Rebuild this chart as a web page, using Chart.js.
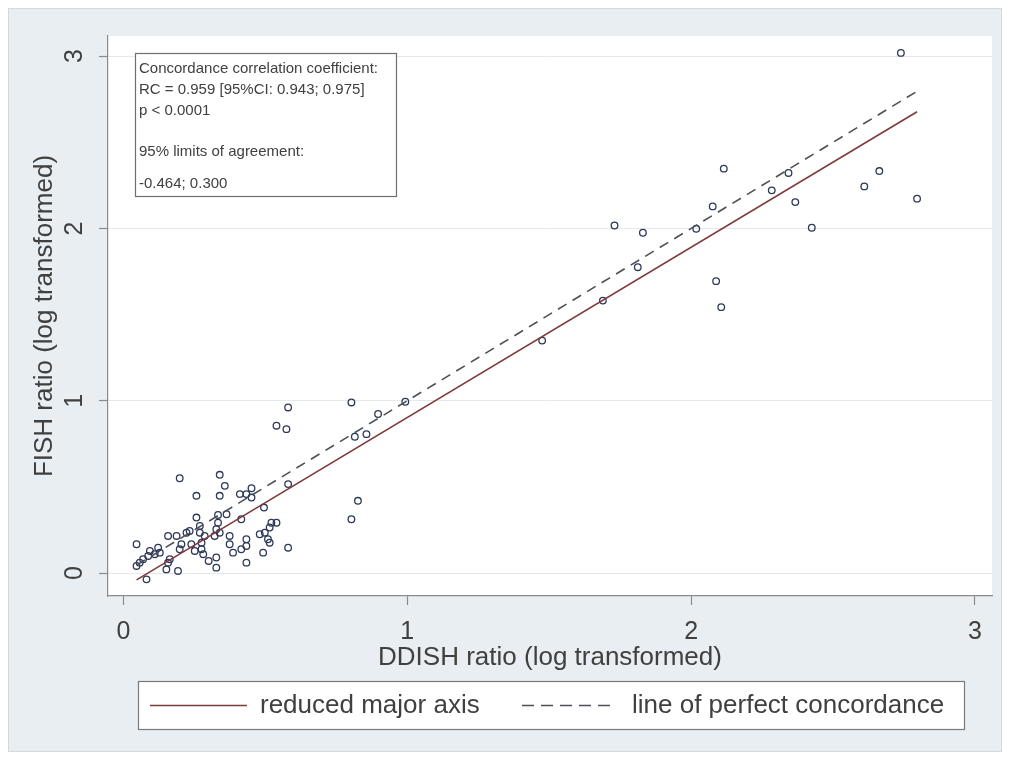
<!DOCTYPE html>
<html>
<head>
<meta charset="utf-8">
<script src="https://cdn.jsdelivr.net/npm/chart.js@4.4.1/dist/chart.umd.min.js"></script>
<style>
  html, body { margin: 0; padding: 0; background: #fff; }
  canvas { display: block; }
</style>
</head>
<body>
<canvas id="concordChart" width="1010" height="760"></canvas>
<script>
// DDISH vs FISH ratios (log transformed)
const ddish = [0.046, 0.046, 0.057, 0.069, 0.087, 0.093, 0.081, 0.110, 0.122, 0.128,
  0.151, 0.157, 0.163, 0.157, 0.187, 0.192, 0.198, 0.204, 0.222, 0.233,
  0.239, 0.251, 0.198, 0.257, 0.257, 0.269, 0.269, 0.286, 0.275, 0.275,
  0.281, 0.300, 0.327, 0.327, 0.333, 0.333, 0.327, 0.339, 0.321, 0.339,
  0.357, 0.339, 0.363, 0.374, 0.374, 0.415, 0.433, 0.433, 0.415, 0.386,
  0.433, 0.410, 0.433, 0.451, 0.451, 0.495, 0.480, 0.498, 0.515, 0.521,
  0.539, 0.509, 0.515, 0.492, 0.580, 0.580, 0.580, 0.539, 0.574, 0.803,
  0.897, 0.856, 0.815, 0.826, 0.803, 0.993, 1.475, 1.689, 1.730, 1.812,
  1.830, 2.018, 2.076, 2.088, 2.106, 2.115, 2.284, 2.343, 2.367, 2.425,
  2.610, 2.663, 2.739, 2.796];
const fish = [0.167, 0.041, 0.060, 0.080, 0.099, 0.128, -0.037, 0.109, 0.147, 0.118,
  0.021, 0.060, 0.080, 0.215, 0.215, 0.012, 0.138, 0.167, 0.234, 0.244,
  0.167, 0.128, 0.550, 0.448, 0.322, 0.273, 0.234, 0.215, 0.176, 0.138,
  0.109, 0.070, 0.090, 0.031, 0.337, 0.292, 0.254, 0.234, 0.215, 0.570,
  0.506, 0.448, 0.341, 0.215, 0.167, 0.312, 0.196, 0.157, 0.138, 0.118,
  0.060, 0.458, 0.458, 0.492, 0.438, 0.380, 0.225, 0.234, 0.264, 0.292,
  0.292, 0.196, 0.176, 0.118, 0.147, 0.516, 0.961, 0.855, 0.835, 0.990,
  0.923, 0.806, 0.791, 0.419, 0.312, 0.994, 1.349, 1.581, 2.017, 1.775,
  1.975, 1.998, 2.128, 1.694, 1.543, 2.347, 2.221, 2.322, 2.153, 2.004,
  2.244, 2.333, 3.019, 2.173];

// reduced major axis end points and the y = x line
const rmaX = [0.046, 2.796];
const rmaY = [-0.040, 2.677];
const perfectX = [0.046, 2.796];
const perfectY = [0.046, 2.796];

const xTicks = [0, 1, 2, 3];
const yTicks = [0, 1, 2, 3];

const legendLabels = ['reduced major axis', 'line of perfect concordance'];
const noteLines = [
  'Concordance correlation coefficient:',
  'RC = 0.959 [95%CI: 0.943; 0.975]',
  'p < 0.0001',
  '',
  '95% limits of agreement:',
  '-0.464; 0.300'
];

const RMA_COLOR = '#7d3b3b';
const PERFECT_COLOR = '#4b5059';
const TEXT_COLOR = '#404040';
const FONT = '"Liberation Sans", Arial, sans-serif';

const points = ddish.map((x, i) => ({ x: x, y: fish[i] }));
const toXY = (xs, ys) => xs.map((x, i) => ({ x: x, y: ys[i] }));

const stataLook = {
  id: 'stataLook',
  beforeDraw(chart) {
    const ctx = chart.ctx;
    const a = chart.chartArea;
    ctx.save();
    ctx.fillStyle = '#ffffff';
    ctx.fillRect(0, 0, chart.width, chart.height);
    ctx.fillStyle = '#e8eef1';
    ctx.fillRect(8, 8, 994, 744);
    ctx.strokeStyle = '#d3dadd';
    ctx.lineWidth = 1;
    ctx.strokeRect(8.5, 8.5, 993, 743);
    ctx.fillStyle = '#ffffff';
    ctx.fillRect(a.left, a.top, a.right - a.left, a.bottom - a.top);
    ctx.restore();
  },
  afterDraw(chart) {
    const ctx = chart.ctx;
    const ys = chart.scales.y;
    ctx.save();
    // rotated y tick labels
    ctx.fillStyle = TEXT_COLOR;
    ctx.font = '25px ' + FONT;
    ctx.textAlign = 'center';
    ctx.textBaseline = 'middle';
    yTicks.forEach(v => {
      ctx.save();
      ctx.translate(74, ys.getPixelForValue(v));
      ctx.rotate(-Math.PI / 2);
      ctx.fillText(String(v), 0, 1);
      ctx.restore();
    });

    // annotation box
    ctx.fillStyle = '#ffffff';
    ctx.fillRect(135, 53, 261, 143);
    ctx.strokeStyle = '#6f6f6f';
    ctx.lineWidth = 1.2;
    ctx.strokeRect(135.5, 53.5, 261, 143);
    ctx.fillStyle = TEXT_COLOR;
    ctx.font = '15px ' + FONT;
    ctx.textAlign = 'left';
    ctx.textBaseline = 'middle';
    const noteY = [69, 90, 111, 131, 152, 184];
    noteLines.forEach((t, i) => ctx.fillText(t, 139, noteY[i]));

    // legend box
    ctx.fillStyle = '#ffffff';
    ctx.fillRect(138, 681, 826, 48);
    ctx.strokeStyle = '#7a7a7a';
    ctx.lineWidth = 1.2;
    ctx.strokeRect(138.5, 681.5, 826, 48);
    ctx.lineWidth = 1.6;
    ctx.strokeStyle = RMA_COLOR;
    ctx.beginPath();
    ctx.moveTo(150, 705.5);
    ctx.lineTo(247, 705.5);
    ctx.stroke();
    ctx.strokeStyle = PERFECT_COLOR;
    ctx.setLineDash([12, 7]);
    ctx.beginPath();
    ctx.moveTo(522, 705.5);
    ctx.lineTo(610, 705.5);
    ctx.stroke();
    ctx.setLineDash([]);
    ctx.fillStyle = TEXT_COLOR;
    ctx.font = '26px ' + FONT;
    ctx.textBaseline = 'middle';
    ctx.fillText(legendLabels[0], 260, 706);
    ctx.fillText(legendLabels[1], 632, 706);
    ctx.restore();
  }
};

new Chart(document.getElementById('concordChart'), {
  type: 'scatter',
  data: {
    datasets: [
      {
        label: 'observations',
        data: points,
        pointStyle: 'circle',
        pointRadius: 3.3,
        pointBorderWidth: 1.3,
        pointBorderColor: '#2e3858',
        pointBackgroundColor: 'rgba(0,0,0,0)',
        order: 3
      },
      {
        label: legendLabels[0],
        data: toXY(rmaX, rmaY),
        showLine: true,
        borderColor: RMA_COLOR,
        borderWidth: 1.6,
        pointRadius: 0,
        order: 1
      },
      {
        label: legendLabels[1],
        data: toXY(perfectX, perfectY),
        showLine: true,
        borderColor: PERFECT_COLOR,
        borderWidth: 1.6,
        borderDash: [10, 7],
        pointRadius: 0,
        order: 2
      }
    ]
  },
  options: {
    responsive: false,
    animation: false,
    devicePixelRatio: 1,
    layout: { padding: { left: 8, right: 18, top: 36, bottom: 0 } },
    plugins: {
      legend: { display: false },
      tooltip: { enabled: false }
    },
    scales: {
      x: {
        type: 'linear',
        min: -0.0546,
        max: 3.060,
        afterBuildTicks: s => { s.ticks = xTicks.map(v => ({ value: v })); },
        afterFit: s => { s.height = 164; },
        border: { display: true, color: '#8a8a8a', width: 1.2 },
        grid: { drawOnChartArea: false, drawTicks: true, tickLength: 9, tickColor: '#8a8a8a', tickWidth: 1.2 },
        ticks: {
          color: TEXT_COLOR,
          font: { family: FONT, size: 25 },
          padding: 12,
          maxRotation: 0
        },
        title: {
          display: true,
          text: 'DDISH ratio (log transformed)',
          color: TEXT_COLOR,
          font: { family: FONT, size: 26 },
          padding: { top: 0, bottom: 87 }
        }
      },
      y: {
        type: 'linear',
        min: -0.1335,
        max: 3.117,
        afterBuildTicks: s => { s.ticks = yTicks.map(v => ({ value: v })); },
        afterFit: s => { s.width = 100; },
        border: { display: true, color: '#8a8a8a', width: 1.2 },
        grid: { drawOnChartArea: true, color: '#e6e9eb', lineWidth: 1, drawTicks: true, tickLength: 9, tickColor: '#8a8a8a', tickWidth: 1.2 },
        ticks: { display: false },
        title: {
          display: true,
          text: 'FISH ratio (log transformed)',
          color: TEXT_COLOR,
          font: { family: FONT, size: 26 },
          padding: { top: 21, bottom: 0 }
        }
      }
    }
  },
  plugins: [stataLook]
});
</script>
</body>
</html>
